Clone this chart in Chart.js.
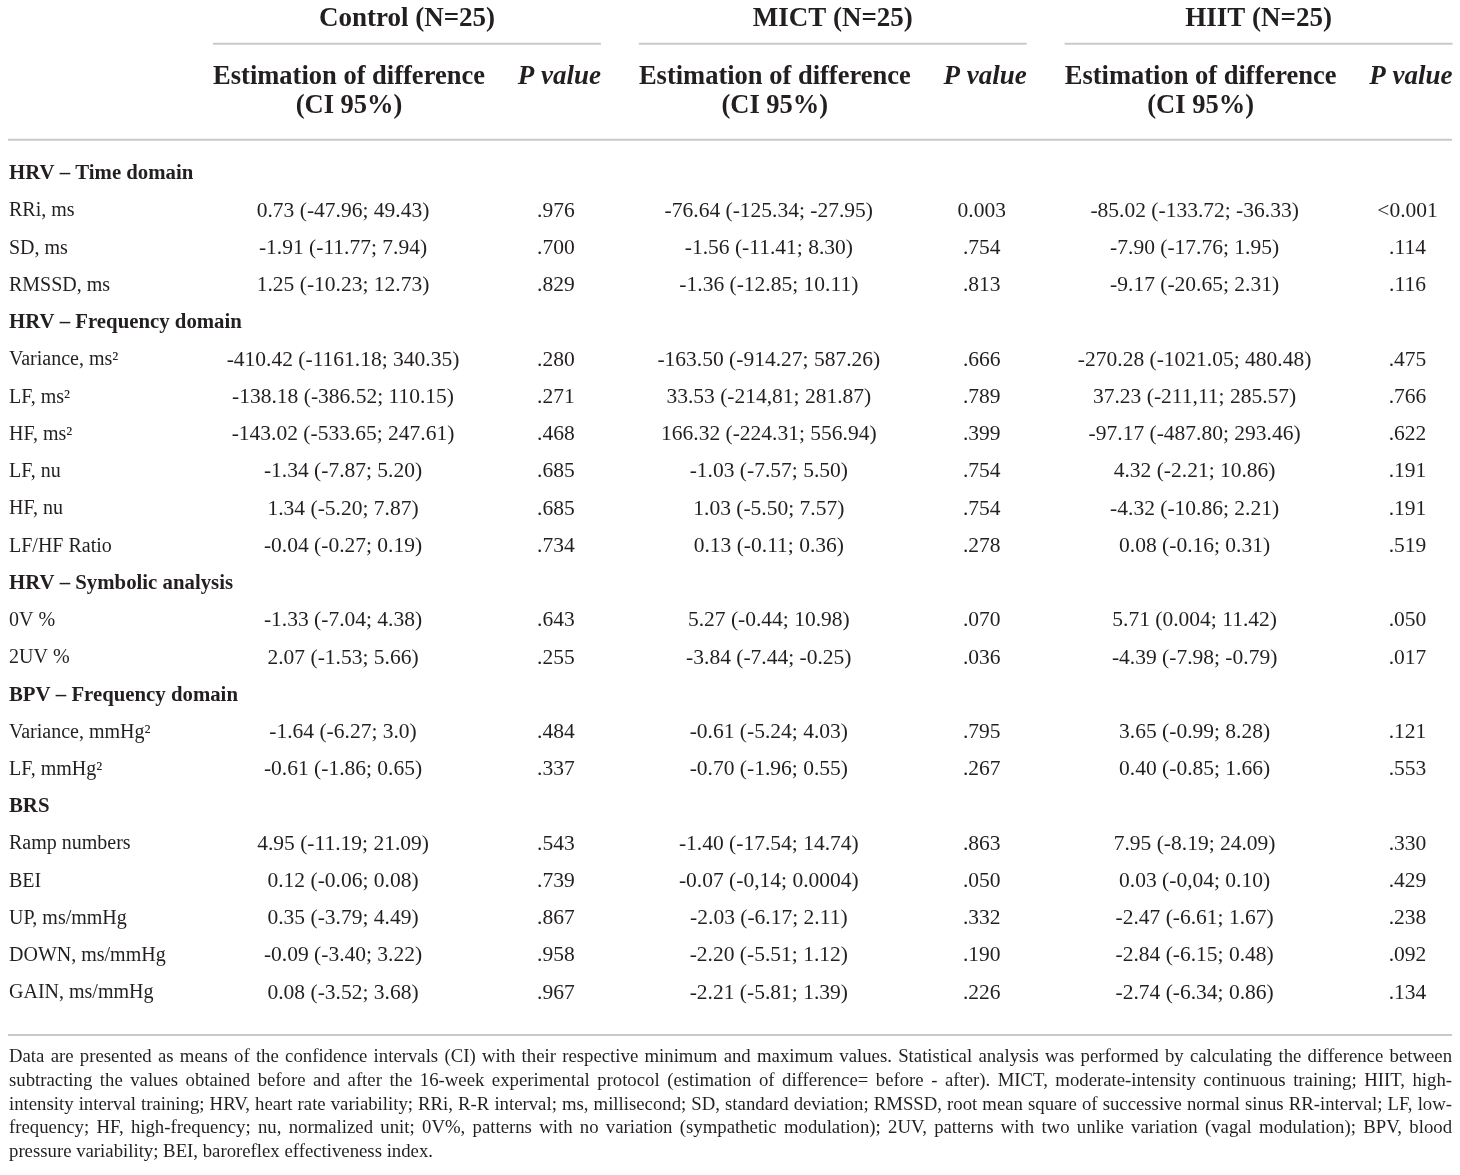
<!DOCTYPE html>
<html><head><meta charset="utf-8">
<script src="https://cdn.jsdelivr.net/npm/chart.js@4/dist/chart.umd.min.js"></script>
<style>html,body{margin:0;padding:0;background:#fff;}canvas{display:block;}</style>
</head><body>
<canvas id="c" width="1460" height="1175"></canvas>
<script>
const groups = ["Control (N=25)", "MICT (N=25)", "HIIT (N=25)"];
const subHeadEst = ["Estimation of difference", "(CI 95%)"];
const subHeadP = "P value";
const rowLabels = ["HRV – Time domain","RRi, ms","SD, ms","RMSSD, ms","HRV – Frequency domain","Variance, ms²","LF, ms²","HF, ms²","LF, nu","HF, nu","LF/HF Ratio","HRV – Symbolic analysis","0V %","2UV %","BPV – Frequency domain","Variance, mmHg²","LF, mmHg²","BRS","Ramp numbers","BEI","UP, ms/mmHg","DOWN, ms/mmHg","GAIN, ms/mmHg"];
const sectionRows = [0,4,11,14,17];
const controlEst = ["","0.73 (-47.96; 49.43)","-1.91 (-11.77; 7.94)","1.25 (-10.23; 12.73)","","-410.42 (-1161.18; 340.35)","-138.18 (-386.52; 110.15)","-143.02 (-533.65; 247.61)","-1.34 (-7.87; 5.20)","1.34 (-5.20; 7.87)","-0.04 (-0.27; 0.19)","","-1.33 (-7.04; 4.38)","2.07 (-1.53; 5.66)","","-1.64 (-6.27; 3.0)","-0.61 (-1.86; 0.65)","","4.95 (-11.19; 21.09)","0.12 (-0.06; 0.08)","0.35 (-3.79; 4.49)","-0.09 (-3.40; 3.22)","0.08 (-3.52; 3.68)"];
const controlP = ["",".976",".700",".829","",".280",".271",".468",".685",".685",".734","",".643",".255","",".484",".337","",".543",".739",".867",".958",".967"];
const mictEst = ["","-76.64 (-125.34; -27.95)","-1.56 (-11.41; 8.30)","-1.36 (-12.85; 10.11)","","-163.50 (-914.27; 587.26)","33.53 (-214,81; 281.87)","166.32 (-224.31; 556.94)","-1.03 (-7.57; 5.50)","1.03 (-5.50; 7.57)","0.13 (-0.11; 0.36)","","5.27 (-0.44; 10.98)","-3.84 (-7.44; -0.25)","","-0.61 (-5.24; 4.03)","-0.70 (-1.96; 0.55)","","-1.40 (-17.54; 14.74)","-0.07 (-0,14; 0.0004)","-2.03 (-6.17; 2.11)","-2.20 (-5.51; 1.12)","-2.21 (-5.81; 1.39)"];
const mictP = ["","0.003",".754",".813","",".666",".789",".399",".754",".754",".278","",".070",".036","",".795",".267","",".863",".050",".332",".190",".226"];
const hiitEst = ["","-85.02 (-133.72; -36.33)","-7.90 (-17.76; 1.95)","-9.17 (-20.65; 2.31)","","-270.28 (-1021.05; 480.48)","37.23 (-211,11; 285.57)","-97.17 (-487.80; 293.46)","4.32 (-2.21; 10.86)","-4.32 (-10.86; 2.21)","0.08 (-0.16; 0.31)","","5.71 (0.004; 11.42)","-4.39 (-7.98; -0.79)","","3.65 (-0.99; 8.28)","0.40 (-0.85; 1.66)","","7.95 (-8.19; 24.09)","0.03 (-0,04; 0.10)","-2.47 (-6.61; 1.67)","-2.84 (-6.15; 0.48)","-2.74 (-6.34; 0.86)"];
const hiitP = ["","<0.001",".114",".116","",".475",".766",".622",".191",".191",".519","",".050",".017","",".121",".553","",".330",".429",".238",".092",".134"];
const footnoteLines = [
"Data are presented as means of the confidence intervals (CI) with their respective minimum and maximum values. Statistical analysis was performed by calculating the difference between",
"subtracting the values obtained before and after the 16-week experimental protocol (estimation of difference= before - after). MICT, moderate-intensity continuous training; HIIT, high-",
"intensity interval training; HRV, heart rate variability; RRi, R-R interval; ms, millisecond; SD, standard deviation; RMSSD, root mean square of successive normal sinus RR-interval; LF, low-",
"frequency; HF, high-frequency; nu, normalized unit; 0V%, patterns with no variation (sympathetic modulation); 2UV, patterns with two unlike variation (vagal modulation); BPV, blood",
"pressure variability; BEI, baroreflex effectiveness index."
];

const columns = [controlEst, controlP, mictEst, mictP, hiitEst, hiitP];
const TEXT = '#231f20', RULE = '#c9c9c9';
const SERIF = '"Liberation Serif", "DejaVu Serif", serif';

const datasets = columns.map((col, ci) => ({
  label: 'col' + ci,
  data: col.map((v, ri) => ({x: ci, y: ri})).filter(p => col[p.y] !== ''),
  texts: col.filter(v => v !== ''),
  pointRadius: 0, showLine: false
}));

const tablePlugin = {
  id: 'tablePlugin',
  afterDatasetsDraw(chart) {
    const ctx = chart.ctx, xs = chart.scales.x, ys = chart.scales.y, area = chart.chartArea;
    ctx.save();
    ctx.fillStyle = TEXT;
    // cells
    chart.data.datasets.forEach((ds, di) => {
      const meta = chart.getDatasetMeta(di);
      ctx.font = '21.5px ' + SERIF;
      ctx.textAlign = 'center'; ctx.textBaseline = 'middle';
      meta.data.forEach((el, i) => ctx.fillText(ds.texts[i], el.x, el.y));
    });
    // row labels
    rowLabels.forEach((lab, ri) => {
      const bold = sectionRows.includes(ri);
      ctx.font = (bold ? 'bold 20.8px ' : '20px ') + SERIF;
      ctx.textAlign = 'left'; ctx.textBaseline = 'middle';
      ctx.fillText(lab, area.left, ys.getPixelForValue(ri));
    });
    // headers
    const rowH = ys.getPixelForValue(1) - ys.getPixelForValue(0);
    const y0 = ys.getPixelForValue(0);
    ctx.strokeStyle = RULE; ctx.lineWidth = 2;
    groups.forEach((g, gi) => {
      const xe = xs.getPixelForValue(gi * 2), xp = xs.getPixelForValue(gi * 2 + 1);
      const left = xe - 130, right = xp + 45;
      ctx.font = 'bold 27px ' + SERIF; ctx.textAlign = 'center'; ctx.textBaseline = 'middle';
      ctx.fillText(g, (left + right) / 2, y0 - rowH * 4.15);
      ctx.beginPath(); ctx.moveTo(left, y0 - rowH * 3.5); ctx.lineTo(right, y0 - rowH * 3.5); ctx.stroke();
      ctx.font = 'bold 26.5px ' + SERIF;
      ctx.fillText(subHeadEst[0], xe + 6, y0 - rowH * 2.6);
      ctx.fillText(subHeadEst[1], xe + 6, y0 - rowH * 1.82);
      ctx.font = 'italic bold 27px ' + SERIF; ctx.textAlign = 'right';
      ctx.fillText(subHeadP, right, y0 - rowH * 2.6);
    });
    ctx.beginPath(); ctx.moveTo(area.left - 1, y0 - rowH * 0.92); ctx.lineTo(area.right, y0 - rowH * 0.92); ctx.stroke();
    const yEnd = ys.getPixelForValue(rowLabels.length - 1);
    ctx.beginPath(); ctx.moveTo(area.left - 1, yEnd + rowH * 1.13); ctx.lineTo(area.right, yEnd + rowH * 1.13); ctx.stroke();
    // footnote, justified; choose largest font that fits every line
    const width = area.right - area.left;
    let fs = 20;
    for (; fs > 12; fs -= 0.25) {
      ctx.font = fs + 'px ' + SERIF;
      const ok = footnoteLines.every(l => ctx.measureText(l).width <= width - 8);
      if (ok) break;
    }
    ctx.font = fs + 'px ' + SERIF; ctx.textAlign = 'left'; ctx.textBaseline = 'middle';
    footnoteLines.forEach((line, li) => {
      const fy = yEnd + rowH * 1.72 + li * 23.8;
      const words = line.split(' ');
      if (li === footnoteLines.length - 1) { ctx.fillText(line, area.left, fy); return; }
      const wsum = words.reduce((s, w) => s + ctx.measureText(w).width, 0);
      const gap = (width - wsum) / (words.length - 1);
      let x = area.left;
      words.forEach(w => { ctx.fillText(w, x, fy); x += ctx.measureText(w).width + gap; });
    });
    ctx.restore();
  }
};

new Chart(document.getElementById('c'), {
  type: 'scatter',
  data: { datasets },
  options: {
    responsive: false, animation: false, devicePixelRatio: 1,
    layout: { padding: { top: 174, bottom: 182, left: 9, right: 8 } },
    plugins: { legend: { display: false }, tooltip: { enabled: false } },
    scales: {
      x: { type: 'linear', min: -1.569, max: 5.209, display: false },
      y: { type: 'linear', min: 0, max: rowLabels.length - 1, reverse: true, display: false }
    }
  },
  plugins: [tablePlugin]
});
</script>
</body></html>
